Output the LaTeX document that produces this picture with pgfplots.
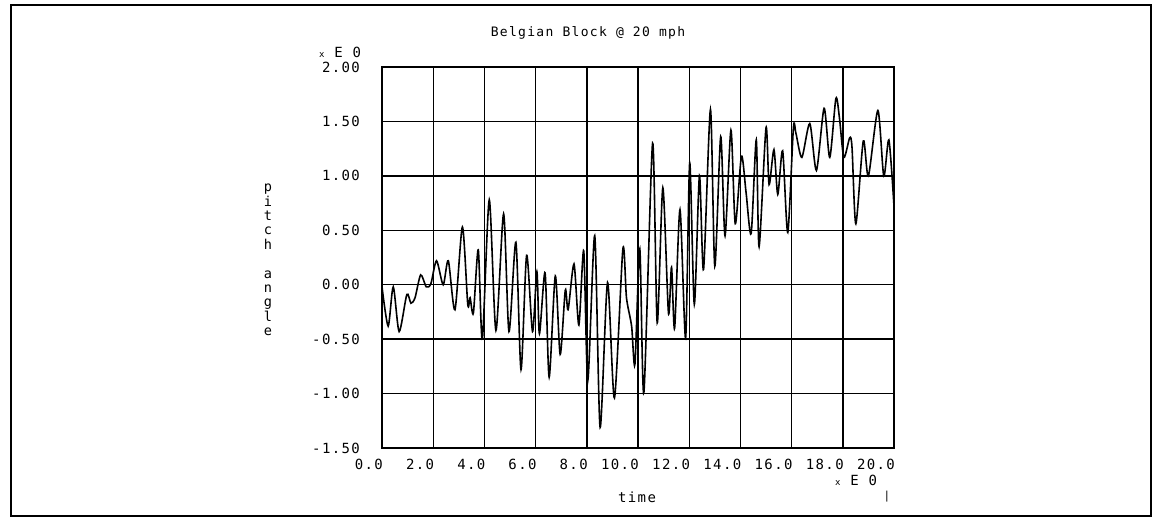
\documentclass[border=0pt]{standalone}
\usepackage{fontspec}
\setmainfont{DejaVu Sans Mono}[LetterSpace=10]
\usepackage{pgfplots}
\pgfplotsset{compat=1.18}

\begin{document}
\begin{tikzpicture}
\useasboundingbox (0pt,0pt) rectangle (578.5pt,261.5pt);
\draw[line width=1.2pt] (5.5pt,3.5pt) rectangle (575.5pt,259pt);
\begin{axis}[
    at={(191pt,37.5pt)}, anchor=south west,
    scale only axis, width=256pt, height=190.5pt,
    xmin=0, xmax=20, ymin=-1.5, ymax=2,
    xtick={0,2,...,20}, ytick={-1.5,-1,...,2},
    xticklabels={0.0,2.0,4.0,6.0,8.0,10.0,12.0,14.0,16.0,18.0,20.0},
    yticklabels={-1.50,-1.00,-0.50,0.00,0.50,1.00,1.50,2.00},
    grid=major,
    major grid style={black, line width=0.7pt},
    axis line style={line width=0.7pt},
    major tick length=0pt,
    tick label style={font=\fontsize{7}{8}\selectfont},
    xticklabel style={anchor=north east, xshift=4pt, yshift=-2pt},
    yticklabel style={xshift=-7.5pt},
]
% pitch angle vs time
\addplot[black, line width=0.8pt, smooth, tension=0.45] coordinates {
    (0.00,-0.02) (0.24,-0.38) (0.44,-0.02) (0.67,-0.43) (0.97,-0.09)
    (1.13,-0.17) (1.29,-0.12) (1.51,0.09) (1.73,-0.02) (1.91,0.01)
    (2.13,0.22) (2.39,0.00) (2.59,0.22) (2.85,-0.23) (3.14,0.53)
    (3.35,-0.18) (3.44,-0.12) (3.57,-0.26) (3.76,0.32) (3.92,-0.50)
    (4.19,0.78) (4.45,-0.42) (4.75,0.65) (4.96,-0.43) (5.23,0.39)
    (5.43,-0.78) (5.65,0.27) (5.88,-0.43) (6.05,0.12) (6.15,-0.45)
    (6.37,0.11) (6.53,-0.85) (6.77,0.08) (6.96,-0.64) (7.16,-0.05)
    (7.27,-0.23) (7.50,0.19) (7.69,-0.37) (7.88,0.31) (8.04,-0.88)
    (8.31,0.45) (8.52,-1.31) (8.81,0.02) (9.08,-1.04) (9.41,0.33)
    (9.55,-0.12) (9.75,-0.38) (9.88,-0.73) (10.07,0.33) (10.23,-0.99)
    (10.57,1.30) (10.75,-0.35) (10.97,0.89) (11.19,-0.26) (11.31,0.16)
    (11.43,-0.40) (11.64,0.69) (11.86,-0.49) (12.02,1.12) (12.20,-0.18)
    (12.40,1.00) (12.56,0.14) (12.83,1.61) (13.00,0.17) (13.23,1.36)
    (13.40,0.45) (13.63,1.42) (13.80,0.56) (14.04,1.18) (14.22,0.85)
    (14.42,0.47) (14.62,1.33) (14.73,0.35) (15.00,1.44) (15.12,0.92)
    (15.31,1.24) (15.46,0.83) (15.65,1.23) (15.85,0.48) (16.07,1.44)
    (16.17,1.39) (16.40,1.17) (16.71,1.48) (16.97,1.05) (17.27,1.62)
    (17.49,1.17) (17.73,1.71) (17.87,1.53) (18.04,1.17) (18.27,1.35)
    (18.36,1.26) (18.51,0.56) (18.80,1.32) (19.00,1.00) (19.37,1.60)
    (19.60,1.00) (19.80,1.33) (20.00,0.72)
};
\end{axis}
\node[font=\fontsize{6.5}{8}\selectfont] at (294pt,245pt) {Belgian Block @ 20 mph};
\node[font=\fontsize{7}{8}\selectfont] at (170pt,235.5pt) {{\fontsize{4.5}{5}\selectfont x} E 0};
\node[font=\fontsize{7}{8}\selectfont] at (428pt,21.5pt) {{\fontsize{4.5}{5}\selectfont x} E 0};
\node[font=\fontsize{7}{8}\selectfont] at (318.5pt,13pt) {time};
\node[font=\fontsize{5.5}{6}\selectfont] at (443.5pt,13pt) {|};
\node[align=center, inner sep=0pt, font=\fontsize{6.8}{7.2}\selectfont]
    at (134pt,131.5pt) {p\\i\\t\\c\\h\\~\\a\\n\\g\\l\\e};
\end{tikzpicture}
\end{document}
